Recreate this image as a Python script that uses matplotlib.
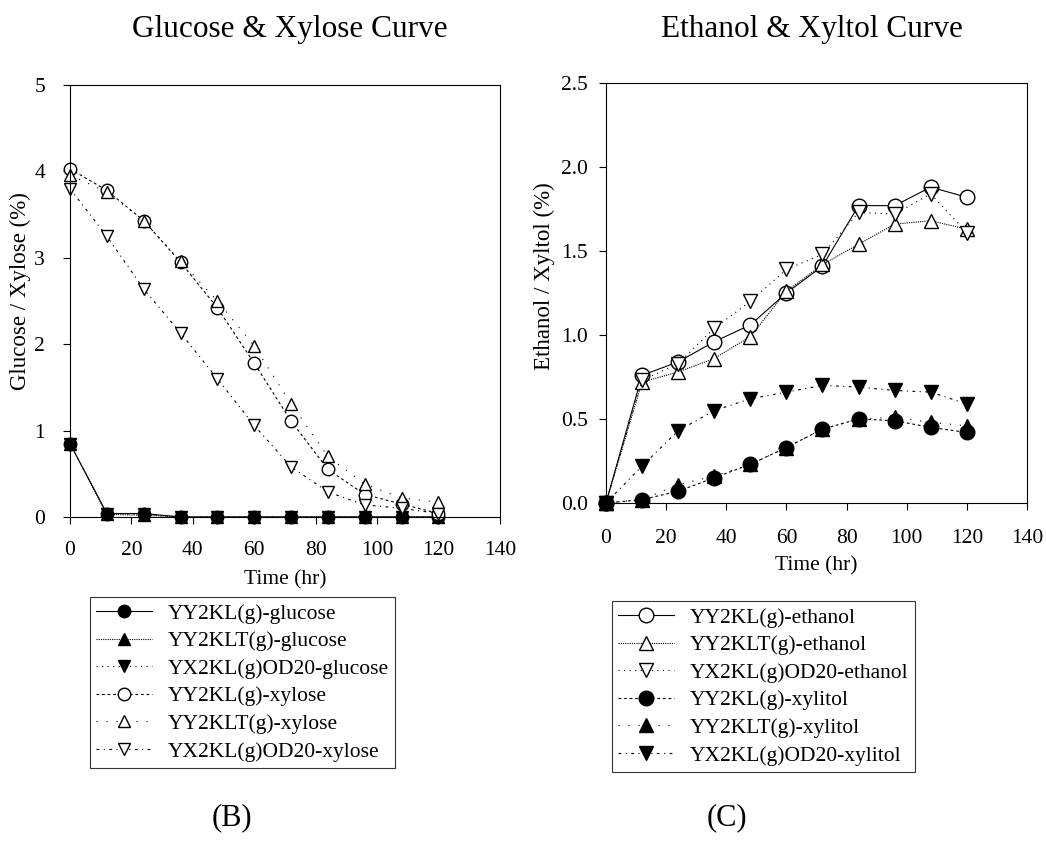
import matplotlib.pyplot as plt

plt.rcParams['font.family'] = 'Liberation Serif'

# Sampling times (hr)
time = [0, 12, 24, 36, 48, 60, 72, 84, 96, 108, 120]

# Panel B: glucose & xylose (%)
yy2kl_glucose = [0.85, 0.04, 0.04, 0, 0, 0, 0, 0, 0, 0, 0]
yy2klt_glucose = [0.85, 0.03, 0.02, 0, 0, 0, 0, 0, 0, 0, 0]
yx2kl_od20_glucose = [0.85, 0.04, 0.03, 0, 0, 0, 0, 0, 0, 0, 0]
yy2kl_xylose = [4.03, 3.78, 3.43, 2.95, 2.42, 1.78, 1.11, 0.55, 0.26, 0.15, 0.04]
yy2klt_xylose = [3.96, 3.76, 3.43, 2.96, 2.50, 1.98, 1.31, 0.70, 0.38, 0.22, 0.17]
yx2kl_od20_xylose = [3.80, 3.25, 2.64, 2.13, 1.60, 1.06, 0.58, 0.29, 0.14, 0.10, 0.04]

# Panel C: ethanol & xylitol (%)
yy2kl_ethanol = [0, 0.76, 0.84, 0.96, 1.06, 1.25, 1.41, 1.77, 1.77, 1.88, 1.82]
yy2klt_ethanol = [0, 0.72, 0.78, 0.86, 0.99, 1.26, 1.42, 1.54, 1.66, 1.68, 1.63]
yx2kl_od20_ethanol = [0, 0.73, 0.83, 1.04, 1.20, 1.39, 1.48, 1.73, 1.72, 1.84, 1.61]
yy2kl_xylitol = [0, 0.02, 0.07, 0.15, 0.23, 0.33, 0.44, 0.50, 0.49, 0.45, 0.42]
yy2klt_xylitol = [0, 0.02, 0.11, 0.16, 0.23, 0.33, 0.44, 0.50, 0.51, 0.48, 0.46]
yx2kl_od20_xylitol = [0, 0.22, 0.43, 0.55, 0.62, 0.66, 0.70, 0.69, 0.67, 0.66, 0.59]

fig = plt.figure(figsize=(10.46, 8.41), dpi=100)
ax1 = fig.add_axes([0.0669, 0.3853, 0.411, 0.5136])
ax2 = fig.add_axes([0.5793, 0.4019, 0.4025, 0.4994])

ls_solid = '-'
ls_dense = (0, (1, 1))
ls_sparse = (0, (1, 4))
ls_dash = (0, (2.5, 2.5))
ls_dot_wide = (0, (1, 8))
ls_dashdot = (0, (2.5, 4, 1, 4))

lw = 0.8
ms1 = 9
ms2 = 10.5

ax1.plot(time, yy2kl_glucose, color='black', ls=ls_solid, lw=lw, marker='o', ms=ms1, label='YY2KL(g)-glucose')
ax1.plot(time, yy2klt_glucose, color='black', ls=ls_dense, lw=lw, marker='^', ms=ms1, label='YY2KLT(g)-glucose')
ax1.plot(time, yx2kl_od20_glucose, color='black', ls=ls_sparse, lw=lw, marker='v', ms=ms1, label='YX2KL(g)OD20-glucose')
ax1.plot(time, yy2kl_xylose, color='black', ls=ls_dash, lw=lw, marker='o', ms=ms1, mfc='white', label='YY2KL(g)-xylose')
ax1.plot(time, yy2klt_xylose, color='black', ls=ls_dot_wide, lw=lw, marker='^', ms=ms1, mfc='white', label='YY2KLT(g)-xylose')
ax1.plot(time, yx2kl_od20_xylose, color='black', ls=ls_dashdot, lw=lw, marker='v', ms=ms1, mfc='white', label='YX2KL(g)OD20-xylose')

ax2.plot(time, yy2kl_ethanol, color='black', ls=ls_solid, lw=lw, marker='o', ms=ms2, mfc='white', label='YY2KL(g)-ethanol')
ax2.plot(time, yy2klt_ethanol, color='black', ls=ls_dense, lw=lw, marker='^', ms=ms2, mfc='white', label='YY2KLT(g)-ethanol')
ax2.plot(time, yx2kl_od20_ethanol, color='black', ls=ls_sparse, lw=lw, marker='v', ms=ms2, mfc='white', label='YX2KL(g)OD20-ethanol')
ax2.plot(time, yy2kl_xylitol, color='black', ls=ls_dash, lw=lw, marker='o', ms=ms2, label='YY2KL(g)-xylitol')
ax2.plot(time, yy2klt_xylitol, color='black', ls=ls_dot_wide, lw=lw, marker='^', ms=ms2, label='YY2KLT(g)-xylitol')
ax2.plot(time, yx2kl_od20_xylitol, color='black', ls=ls_dashdot, lw=lw, marker='v', ms=ms2, label='YX2KL(g)OD20-xylitol')

ax1.set_xlim(0, 140)
ax1.set_ylim(0, 5)
ax1.set_xticks(range(0, 141, 20))
ax1.set_yticks(range(0, 6))
ax2.set_xlim(0, 140)
ax2.set_ylim(0, 2.5)
ax2.set_xticks(range(0, 141, 20))
ax2.set_yticks([0, 0.5, 1.0, 1.5, 2.0, 2.5])
ax2.set_yticklabels(['0.0', '0.5', '1.0', '1.5', '2.0', '2.5'])

for ax in (ax1, ax2):
    for sp in ax.spines.values():
        sp.set_linewidth(0.8)
    ax.tick_params(direction='out', length=5, width=0.8, labelsize=15.5)
    ax.set_xlabel('Time (hr)', fontsize=15.5)
    for l in ax.get_lines():
        l.set_clip_on(False)

ax1.tick_params(axis='y', pad=13)
ax1.tick_params(axis='x', pad=12)
ax2.tick_params(axis='y', pad=8)
ax2.tick_params(axis='x', pad=14)

ax1.set_ylabel('Glucose / Xylose (%)', fontsize=16.5)
ax2.set_ylabel('Ethanol / Xyltol (%)', fontsize=16.5)
ax1.yaxis.set_label_coords(-0.09, 0.523)
ax2.yaxis.set_label_coords(-0.122, 0.54)
ax1.xaxis.set_label_coords(0.5, -0.123)
ax2.xaxis.set_label_coords(0.5, -0.126)

fig.text(290 / 1046, 1 - 29 / 841, 'Glucose & Xylose Curve', fontsize=22.5, ha='center', va='center')
fig.text(812 / 1046, 1 - 29 / 841, 'Ethanol & Xyltol Curve', fontsize=22.5, ha='center', va='center')
fig.text(232 / 1046, 1 - 818 / 841, '(B)', fontsize=22, ha='center', va='center')
fig.text(727 / 1046, 1 - 818 / 841, '(C)', fontsize=22, ha='center', va='center')

leg_kw = dict(loc='upper left', fontsize=15.5, frameon=True, fancybox=False, edgecolor='black',
              handlelength=2.6, handletextpad=0.7, labelspacing=0.35, borderpad=0.3,
              borderaxespad=0)
h1, l1 = ax1.get_legend_handles_labels()
lg1 = fig.legend(h1, l1, bbox_to_anchor=(90 / 1046, 1 - 597 / 841), **leg_kw)
h2, l2 = ax2.get_legend_handles_labels()
lg2 = fig.legend(h2, l2, bbox_to_anchor=(612 / 1046, 1 - 601 / 841), **leg_kw)
for lg in (lg1, lg2):
    lg.get_frame().set_linewidth(0.8)

fig.savefig('out.png', dpi=100)
